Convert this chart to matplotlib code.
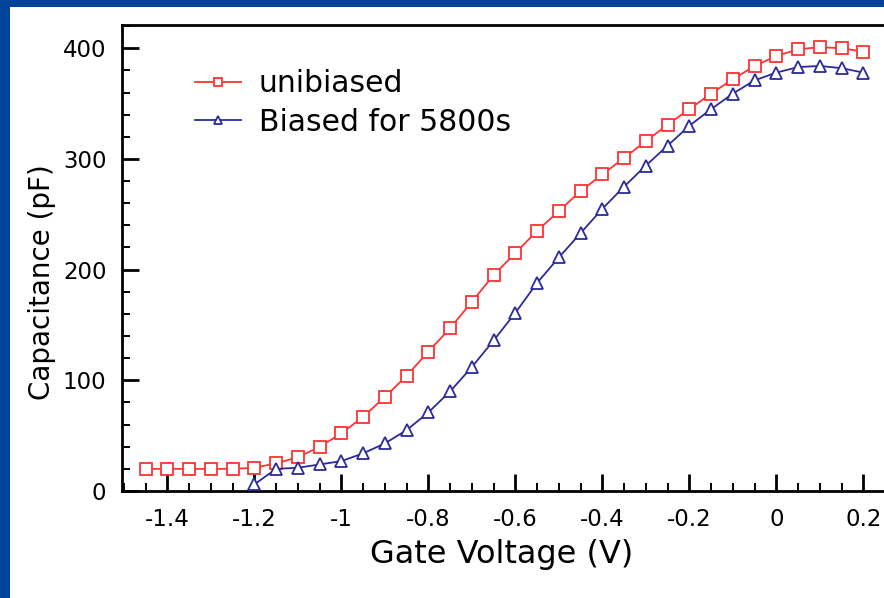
import matplotlib
matplotlib.use("Agg")
import matplotlib.pyplot as plt
from matplotlib.patches import Rectangle
from matplotlib.ticker import MultipleLocator

plt.rcParams['font.family'] = ['DejaVu Sans']

# ---- data ----
v_unbiased = [-1.45, -1.40, -1.35, -1.30, -1.25, -1.20, -1.15, -1.10, -1.05, -1.00,
              -0.95, -0.90, -0.85, -0.80, -0.75, -0.70, -0.65, -0.60, -0.55, -0.50,
              -0.45, -0.40, -0.35, -0.30, -0.25, -0.20, -0.15, -0.10, -0.05, 0.00,
              0.05, 0.10, 0.15, 0.20]
c_unbiased = [20, 20, 20, 20, 20, 21, 25, 30.5, 40, 52,
              67, 85, 104, 126, 147, 171, 195, 215, 235, 253,
              271, 286, 301, 316, 331, 345, 359, 372, 384, 393,
              399, 401, 400, 397]

v_biased = [-1.20, -1.15, -1.10, -1.05, -1.00, -0.95, -0.90, -0.85, -0.80, -0.75,
            -0.70, -0.65, -0.60, -0.55, -0.50, -0.45, -0.40, -0.35, -0.30, -0.25,
            -0.20, -0.15, -0.10, -0.05, 0.00, 0.05, 0.10, 0.15, 0.20]
c_biased = [6, 20, 21, 24, 27, 34, 43, 55, 71, 90,
            112, 136, 161, 188, 211, 233, 255, 275, 294, 312,
            330, 345, 359, 371, 378, 383, 384, 382, 378]

x_ticks = [-1.4, -1.2, -1.0, -0.8, -0.6, -0.4, -0.2, 0.0, 0.2]
x_tick_labels = ['-1.4', '-1.2', '-1', '-0.8', '-0.6', '-0.4', '-0.2', '0', '0.2']
y_ticks = [0, 100, 200, 300, 400]
y_tick_labels = ['0', '100', '200', '300', '400']

label_unbiased = 'unibiased'
label_biased = 'Biased for 5800s'

# ---- figure ----
W, H = 884, 598
fig = plt.figure(figsize=(W / 100, H / 100), dpi=100)
fig.patch.set_facecolor('#00449a')
fig.patches.append(Rectangle((10 / W, 0), 1.0, (H - 7) / H, transform=fig.transFigure,
                             facecolor='white', edgecolor='none', zorder=-5))

x_left, x_right = -1.505, 0.30
px_per_unit = 435.0
ax_left = 121.7 / W
ax_bottom = (H - 491) / H
ax_top = (H - 25) / H
ax_width = (x_right - x_left) * px_per_unit / W
ax = fig.add_axes([ax_left, ax_bottom, ax_width, ax_top - ax_bottom])
ax.set_zorder(1)
ax.set_facecolor('white')
ax_w_px = ax_width * W
ax_h_px = 491 - 25

red = '#ff3333'
blue = '#2b2b9a'
ax.plot(v_unbiased, c_unbiased, color=red, lw=1.3, marker='s', ms=9,
        mfc='white', mec=red, mew=1.3, label=label_unbiased, clip_on=False, zorder=3)
ax.plot(v_biased, c_biased, color=blue, lw=1.3, marker='^', ms=9,
        mfc='white', mec=blue, mew=1.3, label=label_biased, clip_on=False, zorder=3)

ax.set_xlim(x_left, x_right)
ax.set_ylim(0, 421)

ax.set_xticks(x_ticks)
ax.set_xticklabels(x_tick_labels)
ax.set_yticks(y_ticks)
ax.set_yticklabels(y_tick_labels)
ax.xaxis.set_minor_locator(MultipleLocator(0.05))
ax.yaxis.set_minor_locator(MultipleLocator(20))

ax.tick_params(which='major', direction='in', length=12, width=2.0, labelsize=16.5,
               top=False, right=False)
ax.tick_params(axis='x', which='major', pad=12)
ax.tick_params(axis='y', which='major', pad=11)
ax.tick_params(which='minor', direction='in', length=6, width=1.4, top=False, right=False)

for s in ax.spines.values():
    s.set_linewidth(2.0)

ax.set_xlabel('Gate Voltage (V)', fontsize=23, va='top')
ax.xaxis.set_label_coords((502 - 121.7) / ax_w_px, -(539 - 491) / ax_h_px)
ax.set_ylabel('Capacitance (pF)', fontsize=20)
ax.yaxis.set_label_coords(-(121.7 - 56) / ax_w_px, (491 - 282) / ax_h_px)

leg = ax.legend(loc='upper left', bbox_to_anchor=(0.093, 0.905), frameon=False,
                fontsize=21.5, handlelength=1.55, handletextpad=0.6, labelspacing=0.32,
                borderpad=0, borderaxespad=0, markerscale=0.7, numpoints=1)

fig.savefig('out.png', dpi=100, facecolor=fig.get_facecolor())
